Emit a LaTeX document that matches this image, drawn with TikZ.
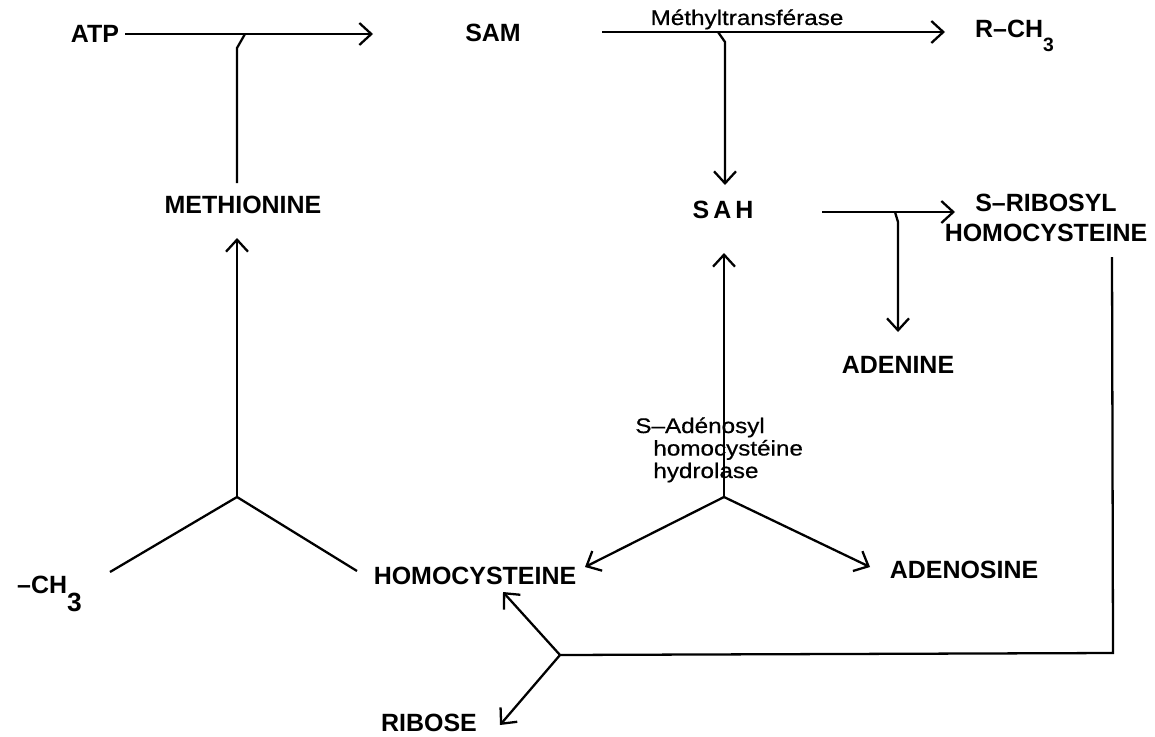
\documentclass[tikz,border=0pt]{standalone}
\usepackage{fontspec}
\setmainfont{Liberation Sans}
\newfontfamily\enzfont[FakeStretch=1.15,FakeBold=0.6]{Liberation Sans}
\usetikzlibrary{arrows.meta}
\newcommand{\lowsub}[2]{\raisebox{-\height}{\fontsize{#1}{#1}\selectfont #2}}
\tikzset{
  >={Straight Barb[length=2.4mm,width=4.4mm]},
  flux/.style={line width=1.3pt},
  mol/.style={font=\fontsize{14.2}{17.1}\selectfont\bfseries},
  enz/.style={font=\enzfont\fontsize{12}{12.8}\selectfont, inner sep=0pt, align=left}
}
\begin{document}
\begin{tikzpicture}
  \useasboundingbox (0,0) rectangle (23.1,-14.72);
  % compounds
  \node[mol] (atp) at (1.9,-0.68) {ATP};
  \node[mol] (sam) at (9.86,-0.66) {SAM};
  \node[mol, anchor=base west] (rch3) at (19.38,-0.76) {R–CH\lowsub{11}{3}};
  \node[mol] (met) at (4.86,-4.1) {METHIONINE};
  \node[mol] (sah) at (14.46,-4.2) {S\,A\,H};
  \node[mol, align=center] (srh) at (20.92,-4.36) {S–RIBOSYL\\HOMOCYSTEINE};
  \node[mol] (ade) at (17.96,-7.3) {ADENINE};
  \node[mol, anchor=base west] (ch3) at (0.22,-11.86) {–CH\lowsub{15}{3}};
  \node[mol] (hcy) at (9.5,-11.52) {HOMOCYSTEINE};
  \node[mol] (ado) at (19.28,-11.4) {ADENOSINE};
  \node[mol] (rib) at (8.58,-14.46) {RIBOSE};
  % enzymes
  \node[enz, anchor=base] (mt) at (14.94,-0.5) {Méthyltransférase};
  \node[enz, anchor=base west] (sahh) at (12.7,-9.56) {S–Adénosyl\\\hspace*{0.36cm}homocystéine\\\hspace*{0.36cm}hydrolase};
  % branch points
  \coordinate (atp-tip) at (7.46,-0.68);
  \coordinate (met-top) at (4.74,-3.66);
  \coordinate (met-hook) at (4.74,-0.96);
  \coordinate (met-join) at (4.9,-0.68);
  \coordinate (met-fork) at (4.74,-9.94);
  \coordinate (met-bot) at (4.74,-4.76);
  \coordinate (ch3-end) at (2.2,-11.44);
  \coordinate (hcy-end) at (7.14,-11.42);
  \coordinate (mt-in) at (12.04,-0.64);
  \coordinate (mt-tip) at (18.9,-0.64);
  \coordinate (mt-join) at (14.36,-0.64);
  \coordinate (mt-hook) at (14.5,-0.84);
  \coordinate (sah-top) at (14.5,-3.7);
  \coordinate (sah-out) at (16.44,-4.24);
  \coordinate (srh-tip) at (19.1,-4.24);
  \coordinate (ade-join) at (17.9,-4.24);
  \coordinate (ade-hook) at (17.96,-4.44);
  \coordinate (ade-tip) at (17.96,-6.64);
  \coordinate (sahh-fork) at (14.48,-9.94);
  \coordinate (sah-bot) at (14.48,-5.06);
  \coordinate (hcy-tip) at (11.7,-11.34);
  \coordinate (ado-tip) at (17.4,-11.34);
  \coordinate (srh-out) at (22.24,-5.14);
  \coordinate (srh-corner) at (22.26,-13.06);
  \coordinate (srh-fork) at (11.2,-13.1);
  \coordinate (hcy-tip2) at (10.06,-11.84);
  \coordinate (rib-tip) at (10.0,-14.5);
  % ATP + methionine
  \draw[flux,->] (atp.east) -- (atp-tip);
  \draw[flux] (met-top) -- (met-hook) -- (met-join);
  \draw[flux,->] (met-fork) -- (met-bot);
  \draw[flux] (ch3-end) -- (met-fork) -- (hcy-end);
  % methyl transfer
  \draw[flux,->] (mt-in) -- (mt-tip);
  \draw[flux,->] (mt-join) -- (mt-hook) -- (sah-top);
  % SAH
  \draw[flux,->] (sah-out) -- (srh-tip);
  \draw[flux,->] (ade-join) -- (ade-hook) -- (ade-tip);
  \draw[flux,->] (sahh-fork) -- (sah-bot);
  \draw[flux,->] (sahh-fork) -- (hcy-tip);
  \draw[flux,->] (sahh-fork) -- (ado-tip);
  % ribosyl homocysteine
  \draw[flux] (srh-out) -- (srh-corner) -- (srh-fork);
  \draw[flux,->] (srh-fork) -- (hcy-tip2);
  \draw[flux,->] (srh-fork) -- (rib-tip);
\end{tikzpicture}
\end{document}
